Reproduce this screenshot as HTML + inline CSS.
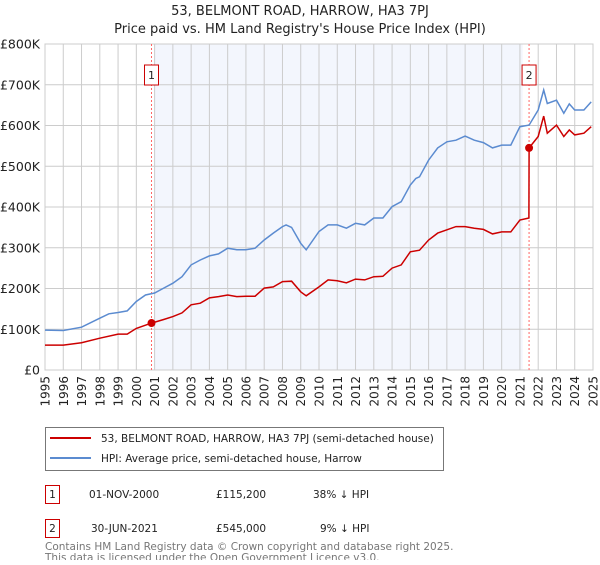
<!DOCTYPE html>
<html><head><meta charset="utf-8"><style>
body{margin:0;background:#fff;font-family:"Liberation Sans","DejaVu Sans",sans-serif;}
svg text{font-family:"DejaVu Sans","Liberation Sans",sans-serif;}
</style></head><body>
<svg id="chart" width="600" height="560" viewBox="0 0 600 560" xmlns="http://www.w3.org/2000/svg">
<text x="300" y="15" text-anchor="middle" font-size="13" fill="#222">53, BELMONT ROAD, HARROW, HA3 7PJ</text>
<text x="300" y="33" text-anchor="middle" font-size="13" fill="#222">Price paid vs. HM Land Registry's House Price Index (HPI)</text>
<g id="plot"></g>
<g>
<rect x="45.5" y="427.5" width="398" height="43" fill="#fff" stroke="#777"/>
<line x1="50" y1="438" x2="91" y2="438" stroke="#cc0000" stroke-width="2"/>
<text x="101" y="442" font-size="10.5" fill="#222">53, BELMONT ROAD, HARROW, HA3 7PJ (semi-detached house)</text>
<line x1="50" y1="458" x2="91" y2="458" stroke="#5b8bd0" stroke-width="2"/>
<text x="101" y="462" font-size="10.5" fill="#222">HPI: Average price, semi-detached house, Harrow</text>
</g>
<g font-size="10.5" fill="#222">
<rect x="45.5" y="485.5" width="14" height="18" fill="#fff" stroke="#cc0000"/>
<text x="52.5" y="498" text-anchor="middle">1</text>
<text x="89" y="498">01-NOV-2000</text>
<text x="216" y="498">£115,200</text>
<text x="313" y="498">38% ↓ HPI</text>
<rect x="45.5" y="519.5" width="14" height="18" fill="#fff" stroke="#cc0000"/>
<text x="52.5" y="532" text-anchor="middle">2</text>
<text x="91" y="532">30-JUN-2021</text>
<text x="216" y="532">£545,000</text>
<text x="320" y="532">9% ↓ HPI</text>
</g>
<text x="45" y="550" font-size="10.5" fill="#777">Contains HM Land Registry data © Crown copyright and database right 2025.</text>
<text x="45" y="561" font-size="10.5" fill="#777">This data is licensed under the Open Government Licence v3.0.</text>
</svg>
<script>
const yTicks=[0,100000,200000,300000,400000,500000,600000,700000,800000];
const yTickLabels=["£0","£100K","£200K","£300K","£400K","£500K","£600K","£700K","£800K"];
const xYears=[1995,1996,1997,1998,1999,2000,2001,2002,2003,2004,2005,2006,2007,2008,2009,2010,2011,2012,2013,2014,2015,2016,2017,2018,2019,2020,2021,2022,2023,2024,2025];
const hpiDates=[1995,1996,1997,1998,1998.5,1999,1999.5,2000,2000.5,2001,2001.5,2002,2002.5,2003,2003.5,2004,2004.5,2005,2005.5,2006,2006.5,2007,2007.5,2008,2008.2,2008.5,2009,2009.3,2010,2010.5,2011,2011.5,2012,2012.5,2013,2013.5,2014,2014.5,2015,2015.3,2015.5,2016,2016.5,2017,2017.5,2018,2018.5,2019,2019.5,2020,2020.5,2021,2021.5,2022,2022.3,2022.5,2023,2023.4,2023.7,2024,2024.5,2024.9];
const hpiValues=[98000,97000,105000,127000,138000,141000,145000,168000,184000,189000,201000,213000,229000,258000,270000,280000,285000,299000,295000,295000,299000,319000,336000,352000,356000,350000,311000,295000,340000,356000,356000,348000,360000,356000,373000,373000,401000,413000,454000,470000,474000,515000,545000,560000,564000,574000,564000,558000,545000,552000,552000,597000,601000,638000,687000,654000,662000,630000,653000,638000,638000,658000];
const priceDates=[1995,1996,1997,1998,1999,1999.5,2000,2000.83,2001.5,2002,2002.5,2003,2003.5,2004,2004.5,2005,2005.5,2006,2006.5,2007,2007.5,2008,2008.5,2009,2009.3,2010,2010.5,2011,2011.5,2012,2012.5,2013,2013.5,2014,2014.5,2015,2015.5,2016,2016.5,2017,2017.5,2018,2018.5,2019,2019.5,2020,2020.5,2021,2021.49,2021.5,2022,2022.3,2022.5,2023,2023.4,2023.7,2024,2024.5,2024.9];
const priceValues=[61000,61000,67000,78000,88000,88000,102000,115200,124000,131000,140000,160000,164000,177000,180000,184000,180000,181000,181000,201000,204000,217000,218000,192000,182000,204000,221000,219000,214000,223000,221000,229000,230000,250000,258000,290000,294000,319000,336000,344000,352000,352000,348000,345000,334000,339000,339000,368000,373000,545000,573000,623000,581000,601000,573000,589000,577000,581000,597000];
const saleDates=[2000.83,2021.5];
const saleValues=[115200,545000];
const saleLabels=["1","2"];

const NS="http://www.w3.org/2000/svg";
const L=45,R=593,T=44,B=370;
const x=d=>L+(d-1995)/30*(R-L);
const y=v=>B-v/800000*(B-T);
const g=document.getElementById('plot');
function mk(t,a,p){const e=document.createElementNS(NS,t);for(const k in a)e.setAttribute(k,a[k]);(p||g).appendChild(e);return e;}
mk('rect',{x:L,y:T,width:R-L,height:B-T,fill:'#fff'});
const sh=mk('rect',{x:x(2001),y:T,width:x(2021.15)-x(2001),height:B-T,fill:'#f3f6fd'});


xYears.forEach(yr=>{mk('line',{x1:x(yr),y1:T,x2:x(yr),y2:B,stroke:'#ccc','stroke-width':1});
 const t=mk('text',{x:0,y:0,'font-size':12,fill:'#222','text-anchor':'end',transform:`translate(${x(yr)+4.5},${B+6}) rotate(-90)`});t.textContent=yr;
 
 });
yTicks.forEach((v,i)=>{mk('line',{x1:L,y1:y(v),x2:R,y2:y(v),stroke:'#ccc','stroke-width':1});
 const t=mk('text',{x:40,y:y(v)+4.5,'font-size':12.5,fill:'#222','text-anchor':'end'});t.textContent=yTickLabels[i];
 
 });
mk('rect',{x:L,y:T,width:R-L,height:B-T,fill:'none',stroke:'#ccc'});
saleDates.forEach((d,i)=>{const l=mk('line',{x1:x(d),y1:T,x2:x(d),y2:B,stroke:'#ff6666','stroke-dasharray':'2,2','stroke-width':1});
 
 
 const b=mk('rect',{x:x(d)-7,y:65,width:14,height:20,fill:'#fff',stroke:'#cc0000'});
 
 
 const t=mk('text',{x:x(d),y:79,'font-size':11,fill:'#222','text-anchor':'middle'});t.textContent=saleLabels[i];
 
 });
const hp=mk('path',{d:hpiDates.map((d,i)=>(i?'L':'M')+x(d).toFixed(1)+','+y(hpiValues[i]).toFixed(1)).join(''),fill:'none',stroke:'#5b8bd0','stroke-width':1.5});


const pp=mk('path',{d:priceDates.map((d,i)=>(i?'L':'M')+x(d).toFixed(1)+','+y(priceValues[i]).toFixed(1)).join(''),fill:'none',stroke:'#cc0000','stroke-width':1.5});


saleDates.forEach((d,i)=>{const c=mk('circle',{cx:x(d),cy:y(saleValues[i]),r:4,fill:'#cc0000'});
 
 });
</script>
</body></html>
